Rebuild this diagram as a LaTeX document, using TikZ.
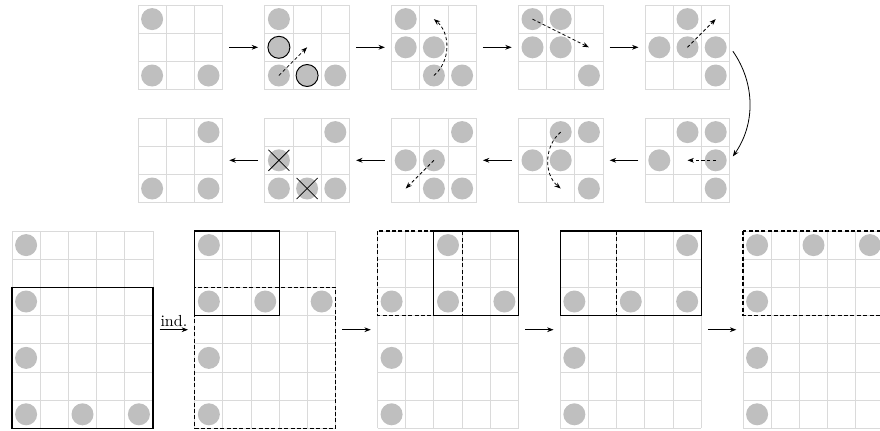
\documentclass[tikz,border=0pt]{standalone}
\usetikzlibrary{arrows.meta}
\definecolor{stonec}{RGB}{191,191,191}
\definecolor{gridc}{RGB}{218,218,218}
\tikzset{
 gl/.style={draw=gridc, line width=0.6pt},
 stone/.style={circle, fill=stonec, minimum size=13.75pt, inner sep=0pt},
 hl/.style={draw=black, line width=0.6pt},
 arr/.style={-{Stealth[length=4pt,width=3pt]}, line width=0.5pt, shorten >=4pt, shorten <=4pt},
 darr/.style={-{Stealth[length=4pt,width=3pt]}, line width=0.5pt, dash pattern=on 2pt off 1.5pt},
 box3/.style={minimum width=52.875pt, minimum height=52.875pt, inner sep=0pt},
 box57/.style={minimum width=88.125pt, minimum height=123.375pt, inner sep=0pt},
 frame/.style={line width=0.7pt},
 dframe/.style={line width=0.7pt, dash pattern=on 2.5pt off 1.5pt},
}
% name, box style, X, Y, cols, rows
\newcommand{\cellgrid}[6]{%
 \foreach \i in {0,...,#5} \draw[gl] ({#3+\i*28.2},#4) -- ({#3+\i*28.2},{#4+#6*28.2});
 \foreach \j in {0,...,#6} \draw[gl] (#3,{#4+\j*28.2}) -- ({#3+#5*28.2},{#4+\j*28.2});
 \node[#2] (#1) at ({#3+#5*14.1},{#4+#6*14.1}) {};
}
% [opts] name, X, Y, row, col
\newcommand{\stoneat}[6][]{%
 \node[stone,#1] (#2) at ({#3+(#6-0.5)*28.2},{#4+(#5-0.5)*28.2}) {};
}
\newcommand{\cellpt}[5]{%
 \coordinate (#1) at ({#2+(#5-0.5)*28.2},{#3+(#4-0.5)*28.2});
}
\newcommand{\crossmk}[1]{%
 \draw[line width=0.5pt] (#1.center) +(-10.5,-10.5) -- +(10.5,10.5);
 \draw[line width=0.5pt] (#1.center) +(-10.5,10.5) -- +(10.5,-10.5);
}
\begin{document}
\begin{tikzpicture}[x=0.625pt,y=-0.625pt]
\useasboundingbox (0,0) rectangle (880,430);
\clip (0,0) rectangle (880,430);
% ---------- top row ----------
\cellgrid{t1}{box3}{138}{5}{3}{3}
\stoneat{t1a}{138}{5}{1}{1}\stoneat{t1b}{138}{5}{3}{1}\stoneat{t1c}{138}{5}{3}{3}

\cellgrid{t2}{box3}{264.8}{5}{3}{3}
\stoneat{t2a}{264.8}{5}{1}{1}\stoneat[hl]{t2b}{264.8}{5}{2}{1}\stoneat{t2c}{264.8}{5}{3}{1}
\stoneat[hl]{t2d}{264.8}{5}{3}{2}\stoneat{t2e}{264.8}{5}{3}{3}
\cellpt{t2t}{264.8}{5}{2}{2}
\draw[darr] (t2c.center) -- (t2t);

\cellgrid{t3}{box3}{391.6}{5}{3}{3}
\stoneat{t3a}{391.6}{5}{1}{1}\stoneat{t3b}{391.6}{5}{2}{1}\stoneat{t3c}{391.6}{5}{2}{2}
\stoneat{t3d}{391.6}{5}{3}{2}\stoneat{t3e}{391.6}{5}{3}{3}
\cellpt{t3t}{391.6}{5}{1}{2}
\draw[darr] (t3d.center) to[bend right=50] (t3t);

\cellgrid{t4}{box3}{518.4}{5}{3}{3}
\stoneat{t4a}{518.4}{5}{1}{1}\stoneat{t4b}{518.4}{5}{1}{2}\stoneat{t4c}{518.4}{5}{2}{1}
\stoneat{t4d}{518.4}{5}{2}{2}\stoneat{t4e}{518.4}{5}{3}{3}
\cellpt{t4t}{518.4}{5}{2}{3}
\draw[darr] (t4a.center) -- (t4t);

\cellgrid{t5}{box3}{645.2}{5}{3}{3}
\stoneat{t5a}{645.2}{5}{1}{2}\stoneat{t5b}{645.2}{5}{2}{1}\stoneat{t5c}{645.2}{5}{2}{2}
\stoneat{t5d}{645.2}{5}{2}{3}\stoneat{t5e}{645.2}{5}{3}{3}
\cellpt{t5t}{645.2}{5}{1}{3}
\draw[darr] (t5c.center) -- (t5t);

% ---------- middle row ----------
\cellgrid{m5}{box3}{645.2}{118}{3}{3}
\stoneat{m5a}{645.2}{118}{1}{2}\stoneat{m5b}{645.2}{118}{1}{3}\stoneat{m5c}{645.2}{118}{2}{1}
\stoneat{m5d}{645.2}{118}{2}{3}\stoneat{m5e}{645.2}{118}{3}{3}
\cellpt{m5t}{645.2}{118}{2}{2}
\draw[darr] (m5d.center) -- (m5t);

\cellgrid{m4}{box3}{518.4}{118}{3}{3}
\stoneat{m4a}{518.4}{118}{1}{2}\stoneat{m4b}{518.4}{118}{1}{3}\stoneat{m4c}{518.4}{118}{2}{1}
\stoneat{m4d}{518.4}{118}{2}{2}\stoneat{m4e}{518.4}{118}{3}{3}
\cellpt{m4t}{518.4}{118}{3}{2}
\draw[darr] (m4a.center) to[bend right=50] (m4t);

\cellgrid{m3}{box3}{391.6}{118}{3}{3}
\stoneat{m3a}{391.6}{118}{1}{3}\stoneat{m3b}{391.6}{118}{2}{1}\stoneat{m3c}{391.6}{118}{2}{2}
\stoneat{m3d}{391.6}{118}{3}{2}\stoneat{m3e}{391.6}{118}{3}{3}
\cellpt{m3t}{391.6}{118}{3}{1}
\draw[darr] (m3c.center) -- (m3t);

\cellgrid{m2}{box3}{264.8}{118}{3}{3}
\stoneat{m2a}{264.8}{118}{1}{3}\stoneat{m2b}{264.8}{118}{2}{1}\stoneat{m2c}{264.8}{118}{3}{1}
\stoneat{m2d}{264.8}{118}{3}{2}\stoneat{m2e}{264.8}{118}{3}{3}
\crossmk{m2b}\crossmk{m2d}

\cellgrid{m1}{box3}{138}{118}{3}{3}
\stoneat{m1a}{138}{118}{1}{3}\stoneat{m1b}{138}{118}{3}{1}\stoneat{m1c}{138}{118}{3}{3}

% row arrows
\draw[arr] (t1) -- (t2);
\draw[arr] (t2) -- (t3);
\draw[arr] (t3) -- (t4);
\draw[arr] (t4) -- (t5);
\draw[arr, shorten <=3pt, shorten >=3pt] (t5.east) to[bend left=35] (m5.east);
\draw[arr] (m5) -- (m4);
\draw[arr] (m4) -- (m3);
\draw[arr] (m3) -- (m2);
\draw[arr] (m2) -- (m1);

% ---------- bottom row ----------
\cellgrid{b1}{box57}{12}{231}{5}{7}
\foreach \r/\c [count=\k] in {1/1,3/1,5/1,7/1,7/3,7/5} {\stoneat{b1s\k}{12}{231}{\r}{\c}}
\draw[frame] (12,{231+2*28.2}) rectangle ({12+5*28.2},{231+7*28.2});

\cellgrid{b2}{box57}{194.75}{231}{5}{7}
\foreach \r/\c [count=\k] in {1/1,3/1,3/3,3/5,5/1,7/1} {\stoneat{b2s\k}{194.75}{231}{\r}{\c}}
\draw[frame] (194.75,231) rectangle ({194.75+3*28.2},{231+3*28.2});
\draw[dframe] (194.75,{231+2*28.2}) rectangle ({194.75+5*28.2},{231+7*28.2});

\cellgrid{b3}{box57}{377.5}{231}{5}{7}
\foreach \r/\c [count=\k] in {1/3,3/1,3/3,3/5,5/1,7/1} {\stoneat{b3s\k}{377.5}{231}{\r}{\c}}
\draw[dframe] (377.5,231) rectangle ({377.5+3*28.2},{231+3*28.2});
\draw[frame] ({377.5+2*28.2},231) rectangle ({377.5+5*28.2},{231+3*28.2});

\cellgrid{b4}{box57}{560.25}{231}{5}{7}
\foreach \r/\c [count=\k] in {1/5,3/1,3/3,3/5,5/1,7/1} {\stoneat{b4s\k}{560.25}{231}{\r}{\c}}
\draw[frame] (560.25,231) rectangle ({560.25+5*28.2},{231+3*28.2});
\draw[dframe] ({560.25+2*28.2},231) rectangle ({560.25+5*28.2},{231+3*28.2});

\cellgrid{b5}{box57}{743}{231}{5}{7}
\foreach \r/\c [count=\k] in {1/1,1/3,1/5,3/1,5/1,7/1} {\stoneat{b5s\k}{743}{231}{\r}{\c}}
\draw[dframe] (743,231) rectangle ({743+5*28.2},{231+3*28.2});

\draw[arr] (b1) -- node[above, inner sep=1.5pt] {ind.} (b2);
\draw[arr] (b2) -- (b3);
\draw[arr] (b3) -- (b4);
\draw[arr] (b4) -- (b5);
\end{tikzpicture}
\end{document}
